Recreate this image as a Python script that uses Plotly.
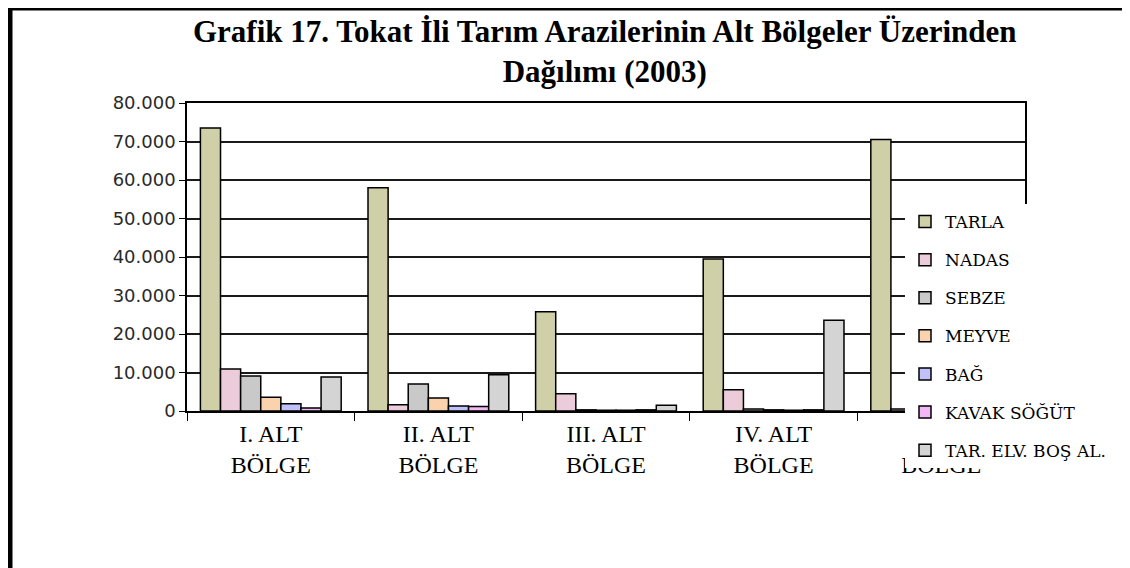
import plotly.graph_objects as go

categories = ["I. ALT<br>BÖLGE", "II. ALT<br>BÖLGE", "III. ALT<br>BÖLGE", "IV. ALT<br>BÖLGE", "V. ALT<br>BÖLGE"]

tarla = [73500, 58000, 25800, 39500, 70500]
nadas = [10900, 1600, 4500, 5500, 500]
sebze = [9100, 7000, 300, 500, 300]
meyve = [3600, 3400, 200, 300, 200]
bag = [1900, 1300, 200, 200, 200]
kavak = [800, 1200, 300, 300, 200]
tar_elv = [8800, 9400, 1500, 23600, 300]

series_names = ["TARLA", "NADAS", "SEBZE", "MEYVE", "BAĞ", "KAVAK SÖĞÜT", "TAR. ELV. BOŞ AL."]
series_values = [tarla, nadas, sebze, meyve, bag, kavak, tar_elv]
fill_colors = ["#d0d0a8", "#ecccda", "#c9c9c9", "#fbd2ae", "#c0c0fa", "#f3b8f3", "#d4d4d4"]

# plot area in figure pixels
L, R, T, B = 179, 1017, 95, 403
W, H = R - L, B - T


def px(fx):
    return (fx - L) / W


def py(fy):
    return (B - fy) / H


fig = go.Figure()
for i, (name, vals, col) in enumerate(zip(series_names, series_values, fill_colors)):
    fig.add_trace(go.Bar(
        x=categories, y=vals, name=name,
        marker=dict(color=col, line=dict(color="#000000", width=1.5)),
        legendgroup=f"g{i}",
    ))

fig.update_layout(
    width=1130, height=568,
    margin=dict(l=L, r=1130 - R, t=T, b=568 - B),
    paper_bgcolor="white", plot_bgcolor="white",
    separators=",.",
    barmode="group", bargap=0.16, bargroupgap=0.0,
    font=dict(family="Liberation Serif", color="#000000"),
    legend=dict(
        x=px(897), y=py(196), xanchor="left", yanchor="top",
        bgcolor="white", borderwidth=0,
        font=dict(family="DejaVu Serif", size=17, color="#000000"),
        traceorder="grouped", tracegroupgap=13,
    ),
    showlegend=True,
)

fig.add_annotation(
    text="<b>Grafik 17. Tokat İli Tarım Arazilerinin Alt Bölgeler Üzerinden<br>Dağılımı (2003)</b>",
    xref="paper", yref="paper", x=px(597), y=py(43),
    xanchor="center", yanchor="middle", showarrow=False,
    font=dict(family="Liberation Serif", size=31, color="#000000"),
)

fig.update_yaxes(
    range=[0, 80000], dtick=10000, tickformat=",d",
    showgrid=True, gridcolor="#1a1a1a", gridwidth=2,
    showline=True, linecolor="#000000", linewidth=1.5, mirror=True,
    ticks="outside", ticklen=6, tickcolor="#000000",
    tickfont=dict(family="DejaVu Sans", size=18, color="#2a2a2a"),
    zeroline=False,
)
fig.update_xaxes(
    showline=True, linecolor="#000000", linewidth=1.5, mirror=True,
    ticks="outside", tickson="boundaries", ticklen=8, tickcolor="#000000",
    tickfont=dict(family="Liberation Serif", size=24, color="#000000"),
    showgrid=False,
)

# outer black frame of the image (left and top edges)
fig.add_shape(type="line", xref="paper", yref="paper",
              x0=px(2), x1=px(1140), y0=py(0), y1=py(0),
              line=dict(color="#000000", width=5))
fig.add_shape(type="line", xref="paper", yref="paper",
              x0=px(2), x1=px(2), y0=py(-1), y1=py(580),
              line=dict(color="#000000", width=5))

fig.write_html("out.html")
